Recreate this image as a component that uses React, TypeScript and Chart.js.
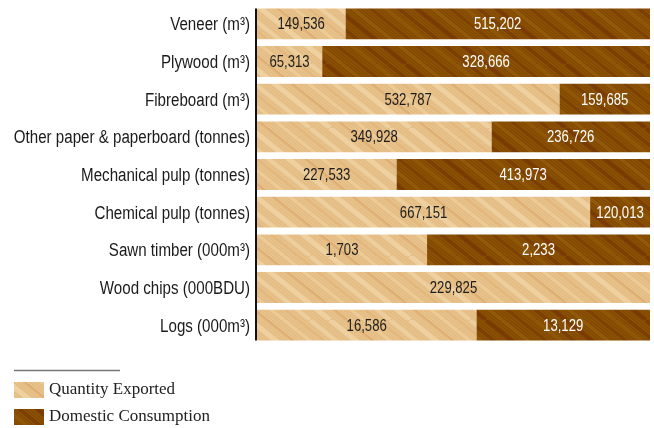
import React, { useEffect, useRef } from "react";
import { Chart, registerables } from "chart.js";

Chart.register(...registerables);

const categories = [
  "Veneer (m³)",
  "Plywood (m³)",
  "Fibreboard (m³)",
  "Other paper & paperboard (tonnes)",
  "Mechanical pulp (tonnes)",
  "Chemical pulp (tonnes)",
  "Sawn timber (000m³)",
  "Wood chips (000BDU)",
  "Logs (000m³)",
];
const quantityExported = [149536, 65313, 532787, 349928, 227533, 667151, 1703, 229825, 16586];
const domesticConsumption = [515202, 328666, 159685, 236726, 413973, 120013, 2233, 0, 13129];
const seriesNames = ["Quantity Exported", "Domestic Consumption"];

function makeWood(base: string, stripes: [string, number, number, number][]) {
  const W = 80;
  const H = 64;
  const c = document.createElement("canvas");
  c.width = W;
  c.height = H;
  const g = c.getContext("2d")!;
  g.fillStyle = base;
  g.fillRect(0, 0, W, H);
  for (const [color, width, alpha, off] of stripes) {
    g.strokeStyle = color;
    g.lineWidth = width;
    g.globalAlpha = alpha;
    for (let k = -2; k <= 2; k++) {
      g.beginPath();
      g.moveTo(off + k * W, 0);
      g.lineTo(off + k * W + W, H);
      g.stroke();
    }
  }
  g.globalAlpha = 1;
  return g.createPattern(c, "repeat")!;
}

const fineOffsets = [0, 4, 8, 12, 16, 20, 24, 28, 32, 36, 40, 44, 48, 52, 56, 60, 64, 68, 72, 76];
const SANS = '"Liberation Sans", Arial, sans-serif';

function narrowText(
  ctx: CanvasRenderingContext2D,
  text: string,
  x: number,
  y: number,
  align: "left" | "right" | "center",
  factor: number
) {
  ctx.save();
  ctx.translate(x, y);
  ctx.scale(factor, 1);
  ctx.textAlign = align;
  ctx.fillText(text, 0, 0);
  ctx.restore();
}

export default function App() {
  const ref = useRef<HTMLCanvasElement>(null);
  useEffect(() => {
    const lightStripes: [string, number, number, number][] = [
      ...fineOffsets.map((o) => ["#c9955a", 1, 0.18, o] as [string, number, number, number]),
      ["#f6dfb4", 5, 0.55, 10],
      ["#d89a58", 2, 0.45, 27],
      ["#f4d8a6", 3, 0.5, 44],
      ["#dba565", 1.5, 0.4, 58],
      ["#f7e2bb", 4, 0.45, 70],
    ];
    const darkStripes: [string, number, number, number][] = [
      ...fineOffsets.map((o) => ["#5e2a00", 1, 0.22, o + 2] as [string, number, number, number]),
      ["#6e2804", 4, 0.5, 6],
      ["#a06a12", 3, 0.45, 22],
      ["#732c05", 2, 0.45, 40],
      ["#9c650e", 4, 0.4, 55],
      ["#6a2a04", 3, 0.4, 68],
    ];
    const light = makeWood("#e8c28b", lightStripes);
    const dark = makeWood("#8a5003", darkStripes);
    const pats = [light, dark];

    const totals = quantityExported.map((v, i) => v + domesticConsumption[i]);
    const raw = [quantityExported, domesticConsumption];

    const valueLabels = {
      id: "valueLabels",
      afterDatasetsDraw(chart: any) {
        const ctx = chart.ctx;
        ctx.save();
        ctx.font = "16px " + SANS;
        ctx.textBaseline = "middle";
        chart.data.datasets.forEach((ds: any, di: number) => {
          const meta = chart.getDatasetMeta(di);
          meta.data.forEach((bar: any, i: number) => {
            const v = raw[di][i];
            if (!v) return;
            ctx.fillStyle = di === 0 ? "#1c1c1c" : "#ffffff";
            narrowText(ctx, v.toLocaleString("en-US"), (bar.x + bar.base) / 2, bar.y + 1, "center", 0.82);
          });
        });
        // category labels
        const yScale = chart.scales.y;
        ctx.font = "18px " + SANS;
        ctx.fillStyle = "#1a1a1a";
        categories.forEach((c, i) => {
          narrowText(ctx, c, chart.chartArea.left - 7, yScale.getPixelForValue(i) + 1.5, "right", 0.84);
        });
        // axis line
        const m0 = chart.getDatasetMeta(0).data;
        const first = m0[0];
        const last = m0[m0.length - 1];
        ctx.strokeStyle = "#111";
        ctx.lineWidth = 2;
        ctx.beginPath();
        ctx.moveTo(chart.chartArea.left - 1, first.y - first.height / 2);
        ctx.lineTo(chart.chartArea.left - 1, last.y + last.height / 2);
        ctx.stroke();
        ctx.restore();
      },
    };

    const legendPlugin = {
      id: "customLegend",
      afterDraw(chart: any) {
        const ctx = chart.ctx;
        ctx.save();
        ctx.strokeStyle = "#777";
        ctx.lineWidth = 1.5;
        ctx.beginPath();
        ctx.moveTo(14, 370.5);
        ctx.lineTo(120, 370.5);
        ctx.stroke();
        ctx.font = '17px "Liberation Serif", "DejaVu Serif", serif';
        ctx.textBaseline = "middle";
        ctx.textAlign = "left";
        seriesNames.forEach((name, i) => {
          const y = 382 + i * 27;
          ctx.fillStyle = pats[i];
          ctx.fillRect(14, y, 30, 16);
          ctx.fillStyle = "#222";
          ctx.fillText(name, 49, y + 8);
        });
        ctx.restore();
      },
    };

    const chart = new Chart(ref.current!, {
      type: "bar",
      data: {
        labels: categories,
        datasets: [0, 1].map((di) => ({
          label: seriesNames[di],
          data: raw[di].map((v, i) => (v / totals[i]) * 100),
          backgroundColor: pats[di],
          borderWidth: 0,
          barPercentage: 0.82,
          categoryPercentage: 1,
        })),
      },
      options: {
        indexAxis: "y",
        responsive: false,
        animation: false,
        layout: { padding: { left: 0, right: 4, top: 5, bottom: 84 } },
        plugins: { legend: { display: false }, tooltip: { enabled: false } },
        scales: {
          x: { stacked: true, min: 0, max: 100, display: false },
          y: {
            stacked: true,
            grid: { display: false, drawTicks: false },
            border: { display: false },
            ticks: { display: false },
            afterFit(scale: any) {
              scale.width = 257;
            },
          },
        },
      },
      plugins: [valueLabels, legendPlugin],
    });
    return () => chart.destroy();
  }, []);
  return (
    <canvas
      ref={ref}
      width={654}
      height={428}
      style={{ position: "fixed", left: 0, top: 0, width: 654, height: 428 }}
    />
  );
}
